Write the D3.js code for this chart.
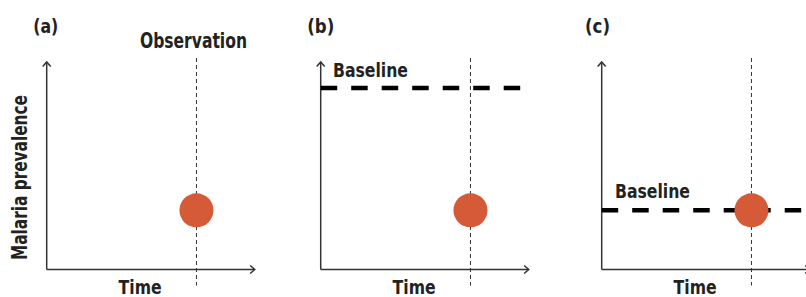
<!DOCTYPE html>
<html lang="en">
  <head>
    <meta charset="utf-8">
    <title>Baseline vs observation</title>
    <script src="https://d3js.org/d3.v7.min.js"></script>
    <style>
      body {
        margin: 0;
        background-color: white;
      }
      svg {
        display: block;
        background-color: white;
      }
      text {
        font-family: "Liberation Sans Narrow", "DejaVu Sans Condensed", "Roboto", sans-serif;
        font-weight: bold;
        fill: #222;
      }
      .axis-line {
        stroke: #333;
        stroke-width: 1.5;
        fill: none;
      }
      .obs-line {
        stroke: #333;
        stroke-width: 1;
        stroke-dasharray: 4,3;
      }
      .baseline {
        stroke: #000;
        stroke-width: 4.5;
        stroke-dasharray: 16.5,14;
      }
    </style>
  </head>
  <body>
    <script>
      var w = 806;
      var h = 297;

      // data
      var panelLabels = ["(a)", "(b)", "(c)"];
      var observationTime = 0.72;
      var observationPrevalence = 0.285;
      var baselinePrevalence = [null, 0.875, 0.285];
      var baselineEnd = [null, 0.96, 1.05];
      var xLabel = "Time";
      var yLabel = "Malaria prevalence";

      // layout: left edge of each panel's y axis
      var panelX = [46.7, 320.7, 601.7];
      var axisW = 208;

      var svg = d3.select("body")
        .append("svg")
        .attr("width", w)
        .attr("height", h);

      var x = d3.scaleLinear().domain([0, 1]).range([0, axisW]);
      var y = d3.scaleLinear().domain([0, 1]).range([269.5, 62]);

      panelLabels.forEach(function(label, i) {
        var g = svg.append("g").attr("transform", "translate(" + panelX[i] + ",0)");

        // axes with open arrow heads
        g.append("path").attr("class", "axis-line")
          .attr("d", "M" + x(0) + "," + y(0) + "V" + y(1));
        g.append("path").attr("class", "axis-line")
          .attr("d", "M" + x(0) + "," + y(0) + "H" + x(1));
        g.append("path").attr("class", "axis-line")
          .attr("d", "M" + (x(0) - 4) + "," + (y(1) + 4.5) + "L" + x(0) + "," + y(1) + "L" + (x(0) + 4) + "," + (y(1) + 4.5));
        g.append("path").attr("class", "axis-line")
          .attr("d", "M" + (x(1) - 4.5) + "," + (y(0) - 4) + "L" + x(1) + "," + y(0) + "L" + (x(1) - 4.5) + "," + (y(0) + 4));

        // observation time
        g.append("line").attr("class", "obs-line")
          .attr("x1", x(observationTime)).attr("x2", x(observationTime))
          .attr("y1", y(1) - 4).attr("y2", y(0) + 16);

        // baseline
        if (baselinePrevalence[i] != null) {
          g.append("line").attr("class", "baseline")
            .attr("x1", x(0)).attr("x2", x(baselineEnd[i]))
            .attr("y1", y(baselinePrevalence[i])).attr("y2", y(baselinePrevalence[i]));
          g.append("text")
            .attr("x", x(0) + (i == 1 ? 12.3 : 13.3))
            .attr("y", y(baselinePrevalence[i]) - (i == 1 ? 10.5 : 12.5))
            .attr("font-size", 20)
            .attr("textLength", 75)
            .attr("lengthAdjust", "spacingAndGlyphs")
            .text("Baseline");
        }

        // observation point
        g.append("circle")
          .attr("cx", x(observationTime))
          .attr("cy", y(observationPrevalence))
          .attr("r", 17)
          .style("fill", "#d45a38");

        if (i == 0) {
          g.append("text")
            .attr("x", x(observationTime) - 3)
            .attr("y", 48)
            .attr("text-anchor", "middle")
            .attr("font-size", 21)
            .attr("textLength", 107)
            .attr("lengthAdjust", "spacingAndGlyphs")
            .text("Observation");
          g.append("text")
            .attr("transform", "translate(-19.5,177.5) rotate(-90)")
            .attr("text-anchor", "middle")
            .attr("font-size", 21)
            .attr("textLength", 165)
            .attr("lengthAdjust", "spacingAndGlyphs")
            .text(yLabel);
        }

        // panel label
        g.append("text")
          .attr("x", i == 2 ? -16.7 : -13.5)
          .attr("y", 33)
          .attr("font-size", 20)
          .attr("textLength", i == 1 ? 27 : 25)
          .attr("lengthAdjust", "spacingAndGlyphs")
          .text(label);

        // x label
        g.append("text")
          .attr("x", 93.4)
          .attr("y", 294)
          .attr("text-anchor", "middle")
          .attr("font-size", 20)
          .attr("textLength", 43)
          .attr("lengthAdjust", "spacingAndGlyphs")
          .text(xLabel);
      });
    </script>
  </body>
</html>
